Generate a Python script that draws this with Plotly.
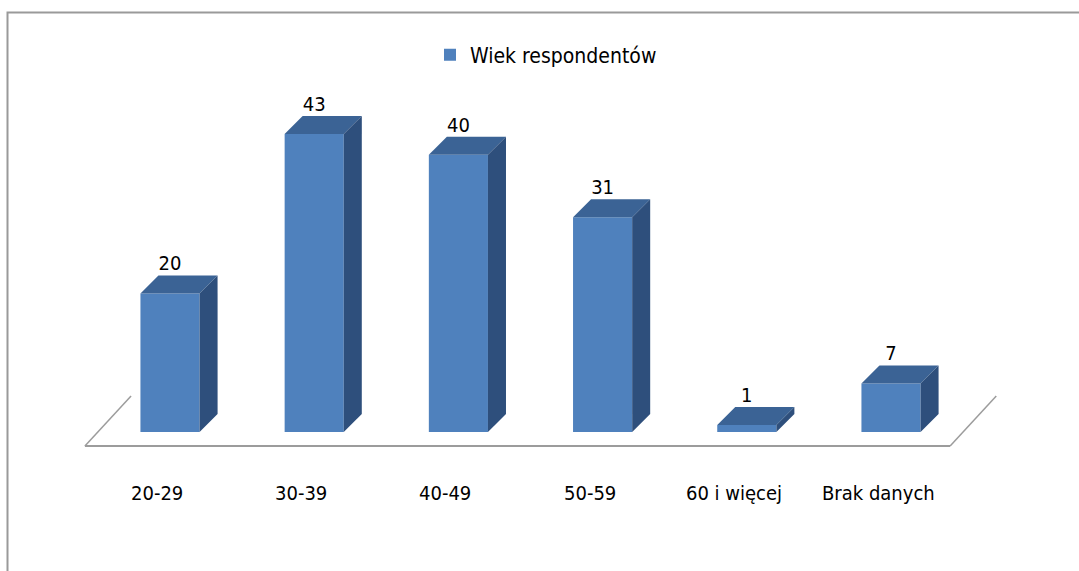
import plotly.graph_objects as go

# Survey data: age groups of respondents
categories = ["20-29", "30-39", "40-49", "50-59", "60 i więcej", "Brak danych"]
values = [20, 43, 40, 31, 1, 7]
series_name = "Wiek respondentów"

# Styling / pseudo-3D geometry (axis units)
FRONT = "#4F81BD"
TOP = "#3B6395"
SIDE = "#2E4F7C"
FLOOR = "#9C9C9C"
FONT = "Liberation Sans Narrow, DejaVu Sans Condensed, Arial Narrow, sans-serif"

W = 0.41            # front width of a column
DX, DY = 0.125, 2.6  # depth offset of the columns
FS = -0.09           # horizontal shift of floor front edge
FZ = -2.02           # floor front edge level
FDX, FDY = 0.32, 7.2  # floor depth

xs = list(range(len(categories)))

fig = go.Figure()

# floor outline: front edge plus the two receding side edges
x_left, x_right = -0.5 + FS, len(categories) - 0.5 + FS
fig.add_trace(go.Scatter(x=[x_left, x_right], y=[FZ, FZ], mode="lines",
                         line=dict(color=FLOOR, width=2),
                         hoverinfo="skip", showlegend=False))
for x0 in (x_left, x_right):
    fig.add_trace(go.Scatter(x=[x0, x0 + FDX], y=[FZ, FZ + FDY], mode="lines",
                             line=dict(color=FLOOR, width=1.5),
                             hoverinfo="skip", showlegend=False))

# front faces
fig.add_trace(go.Bar(x=xs, y=values, width=W, marker=dict(color=FRONT, line=dict(width=0)),
                     name=series_name, showlegend=True))

# top and side faces of each column
for x, v in zip(xs, values):
    l, r = x - W / 2, x + W / 2
    fig.add_trace(go.Scatter(
        x=[l, r, r + DX, l + DX, l], y=[v, v, v + DY, v + DY, v],
        fill="toself", fillcolor=TOP, mode="lines", line=dict(width=0),
        hoverinfo="skip", showlegend=False))
    fig.add_trace(go.Scatter(
        x=[r, r + DX, r + DX, r, r], y=[0, DY, v + DY, v, 0],
        fill="toself", fillcolor=SIDE, mode="lines", line=dict(width=0),
        hoverinfo="skip", showlegend=False))

# value labels above each column
fig.add_trace(go.Scatter(
    x=xs, y=[v + DY for v in values], mode="text",
    text=[str(v) for v in values], textposition="top center",
    textfont=dict(family=FONT, size=20, color="#000000"),
    hoverinfo="skip", showlegend=False))

# category labels along the floor
for x, c in zip(xs, categories):
    fig.add_annotation(x=x + FS, y=1 - 493 / 571, xref="x", yref="paper",
                       text=c, showarrow=False, xanchor="center", yanchor="middle",
                       font=dict(family=FONT, size=20, color="#000000"))

# chart border
fig.add_shape(type="rect", xref="paper", yref="paper",
              x0=7.5 / 1079, x1=1.05, y0=-0.05, y1=1 - 12.5 / 571,
              line=dict(color="#9A9A9A", width=2), fillcolor="rgba(0,0,0,0)")

fig.update_layout(
    width=1079, height=571,
    margin=dict(l=0, r=0, t=0, b=0),
    paper_bgcolor="white", plot_bgcolor="white",
    xaxis=dict(range=[-1.1789, 6.3037], visible=False, fixedrange=True),
    yaxis=dict(range=[-20.058, 62.338], visible=False, fixedrange=True),
    legend=dict(orientation="h", x=430 / 1079, xanchor="left",
                y=1 - 55 / 571, yanchor="middle",
                font=dict(family=FONT, size=21, color="#000000"),
                bgcolor="rgba(0,0,0,0)"),
    showlegend=True,
)

fig.write_html("out.html")
